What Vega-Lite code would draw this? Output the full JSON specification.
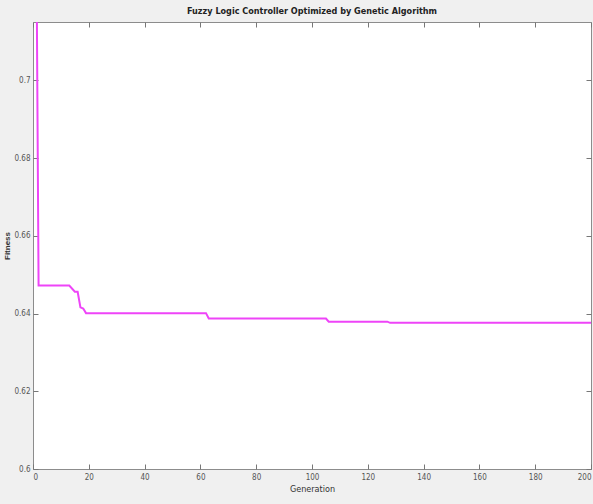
{
  "$schema": "https://vega.github.io/schema/vega-lite/v6.json",
  "width": 558,
  "height": 447,
  "autosize": {"type": "none"},
  "padding": {"left": 33, "top": 22, "right": 2, "bottom": 35},
  "background": "#f0f0f0",
  "config": {
    "view": {"fill": "white", "stroke": "#8c8c8c", "strokeWidth": 1},
    "font": "'DejaVu Sans Condensed', 'Liberation Sans', sans-serif",
    "axis": {"grid": false, "domain": false, "tickColor": "#777", "tickSize": -5, "labelColor": "#555", "labelFontSize": 8, "titleColor": "#333", "titleFontWeight": "normal"}
  },
  "title": {"text": "Fuzzy Logic Controller Optimized by Genetic Algorithm", "fontSize": 9, "fontWeight": "bold", "color": "#222", "offset": 6, "anchor": "middle"},
  "data": {"values": [
    {"generation": 1, "fitness": 0.76},
    {"generation": 2, "fitness": 0.6472},
    {"generation": 13, "fitness": 0.6472},
    {"generation": 15, "fitness": 0.6456},
    {"generation": 16, "fitness": 0.6456},
    {"generation": 17, "fitness": 0.6416},
    {"generation": 18, "fitness": 0.6413},
    {"generation": 19, "fitness": 0.6401},
    {"generation": 62, "fitness": 0.6401},
    {"generation": 63, "fitness": 0.6387},
    {"generation": 105, "fitness": 0.6387},
    {"generation": 106, "fitness": 0.6379},
    {"generation": 127, "fitness": 0.6379},
    {"generation": 128, "fitness": 0.6376},
    {"generation": 200, "fitness": 0.6376}
  ]},
  "layer": [
    {
      "mark": {"type": "line", "color": "#ee44f8", "strokeWidth": 2, "clip": true},
      "encoding": {
        "x": {"field": "generation", "type": "quantitative", "scale": {"domain": [0, 200], "nice": false},
          "axis": {"orient": "bottom", "values": [0, 20, 40, 60, 80, 100, 120, 140, 160, 180, 200], "title": "Generation", "titleFontSize": 9, "titlePadding": 3, "labelPadding": 9}},
        "y": {"field": "fitness", "type": "quantitative", "scale": {"domain": [0.6, 0.715], "nice": false, "zero": false},
          "axis": {"orient": "left", "values": [0.6, 0.62, 0.64, 0.66, 0.68, 0.7], "format": ".2~f", "title": "Fitness", "titleFont": "Liberation Sans", "titleFontSize": 8, "titleFontWeight": "bold", "titlePadding": 2, "labelPadding": 8}}
      }
    },
    {
      "mark": {"type": "line", "opacity": 0, "clip": true},
      "encoding": {
        "x": {"field": "generation", "type": "quantitative", "axis": {"orient": "top", "values": [0, 20, 40, 60, 80, 100, 120, 140, 160, 180, 200], "labels": false, "title": null}},
        "y": {"field": "fitness", "type": "quantitative", "axis": {"orient": "right", "values": [0.6, 0.62, 0.64, 0.66, 0.68, 0.7], "labels": false, "title": null}}
      }
    }
  ],
  "resolve": {"axis": {"x": "independent", "y": "independent"}}
}
